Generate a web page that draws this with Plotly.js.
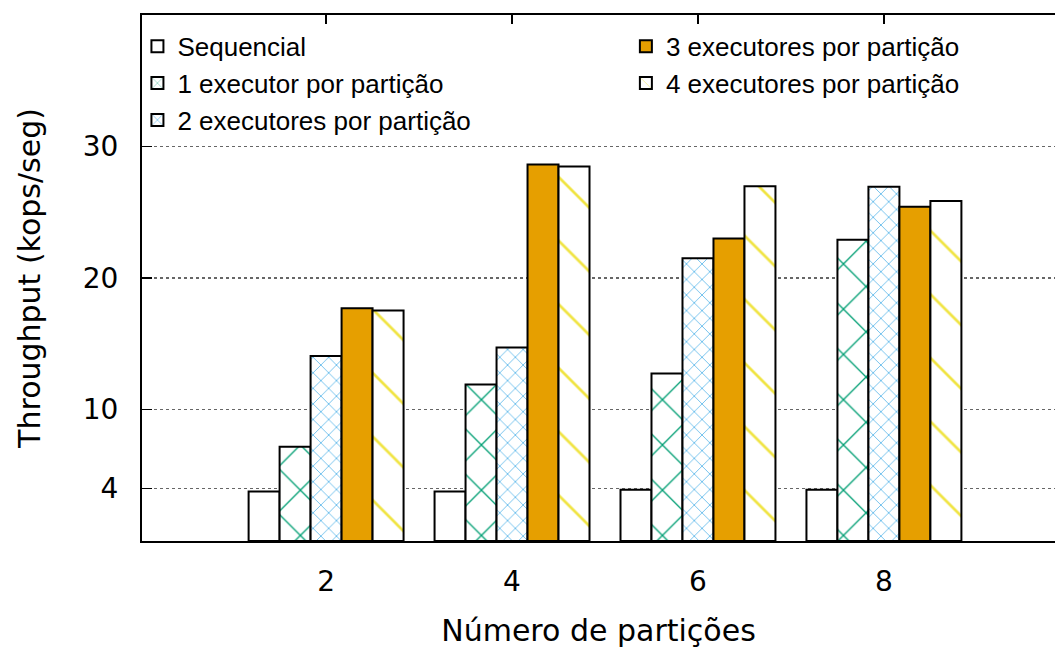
<!DOCTYPE html>
<html>
<head>
<meta charset="utf-8">
<script src="https://cdn.plot.ly/plotly-3.0.1.min.js"></script>
<style>html,body{margin:0;padding:0;background:#fff;}#chart{width:1055px;height:648px;}</style>
</head>
<body>
<div id="chart"></div>
<script>
// Data
const partitions = [2, 4, 6, 8];
const seriesNames = [
  "Sequencial",
  "1 executor por partição",
  "2 executores por partição",
  "3 executores por partição",
  "4 executores por partição"
];
const sequencial = [3.76, 3.76, 3.89, 3.89];
const exec1 = [7.17, 11.9, 12.73, 22.9];
const exec2 = [14.06, 14.72, 21.5, 26.94];
const exec3 = [17.7, 28.64, 23.0, 25.42];
const exec4 = [17.52, 28.48, 26.97, 25.86];
const yTicks = [4, 10, 20, 30];
const xTicks = [2, 4, 6, 8];

const seriesValues = [sequencial, exec1, exec2, exec3, exec4];
const fills = [
  {color: "#ffffff", pattern: {shape: ""}},
  {color: "#ffffff", pattern: {shape: "x", fgcolor: "#009e73", fgopacity: 1, bgcolor: "#ffffff", size: 32, solidity: 0.08, fillmode: "overlay"}},
  {color: "#ffffff", pattern: {shape: "x", fgcolor: "#56b4e9", fgopacity: 1, bgcolor: "#ffffff", size: 11, solidity: 0.14, fillmode: "overlay"}},
  {color: "#e69f00", pattern: {shape: ""}},
  {color: "#ffffff", pattern: {shape: "\\", fgcolor: "#f0e442", fgopacity: 1, bgcolor: "#ffffff", size: 45, solidity: 0.06, fillmode: "overlay"}}
];

const traces = seriesValues.map((vals, i) => ({
  type: "bar",
  name: seriesNames[i],
  x: partitions,
  y: vals,
  legend: i < 3 ? "legend" : "legend2",
  marker: {
    color: fills[i].color,
    pattern: fills[i].pattern,
    line: {color: "#000000", width: 2}
  },
  hoverinfo: "x+y+name"
}));

const tickFont = {family: "DejaVu Sans", size: 28, color: "#000"};
const titleFont = {family: "DejaVu Sans", size: 30, color: "#000"};
const legendFont = {family: "Liberation Sans", size: 26, color: "#000"};

const layout = {
  width: 1055,
  height: 648,
  margin: {l: 142, r: 0, t: 15, b: 107, pad: 0},
  paper_bgcolor: "#ffffff",
  plot_bgcolor: "#ffffff",
  barmode: "group",
  bargap: 1/6,
  bargroupgap: 0,
  showlegend: true,
  xaxis: {
    range: [0.02, 9.84],
    tickvals: xTicks,
    ticktext: xTicks.map(String),
    ticks: "",
    showline: true,
    linecolor: "#000",
    linewidth: 2,
    mirror: true,
    showgrid: false,
    zeroline: false,
    tickfont: tickFont,
    ticklabelstandoff: 14,
    title: {text: "Número de partições", font: titleFont, standoff: 24}
  },
  xaxis2: {
    overlaying: "x",
    matches: "x",
    side: "top",
    range: [0.02, 9.84],
    tickvals: xTicks,
    ticks: "inside",
    ticklen: 9,
    tickwidth: 1.5,
    tickcolor: "#000",
    showticklabels: false,
    showline: false,
    showgrid: false,
    zeroline: false
  },
  yaxis: {
    range: [0, 40],
    tickvals: yTicks,
    ticktext: yTicks.map(String),
    ticks: "inside",
    ticklen: 10,
    tickwidth: 1.5,
    tickcolor: "#000",
    showline: true,
    linecolor: "#000",
    linewidth: 2,
    showgrid: true,
    gridcolor: "#666666",
    gridwidth: 1.5,
    griddash: "dot",
    zeroline: false,
    tickfont: tickFont,
    ticklabelstandoff: 16,
    title: {text: "Throughput (kops/seg)", font: titleFont, standoff: 33}
  },
  legend: {
    x: -0.005, y: 0.985, xanchor: "left", yanchor: "top",
    bgcolor: "rgba(0,0,0,0)",
    font: legendFont,
    tracegroupgap: 0,
    itemclick: false
  },
  legend2: {
    x: 0.53, y: 0.985, xanchor: "left", yanchor: "top",
    bgcolor: "rgba(0,0,0,0)",
    font: legendFont,
    tracegroupgap: 0,
    itemclick: false
  }
};

// empty helper trace so the top tick axis (xaxis2) is rendered
traces.push({type: "scatter", x: [], y: [], xaxis: "x2", yaxis: "y", showlegend: false, hoverinfo: "skip"});

Plotly.newPlot("chart", traces, layout, {displayModeBar: false, staticPlot: true});
</script>
</body>
</html>
